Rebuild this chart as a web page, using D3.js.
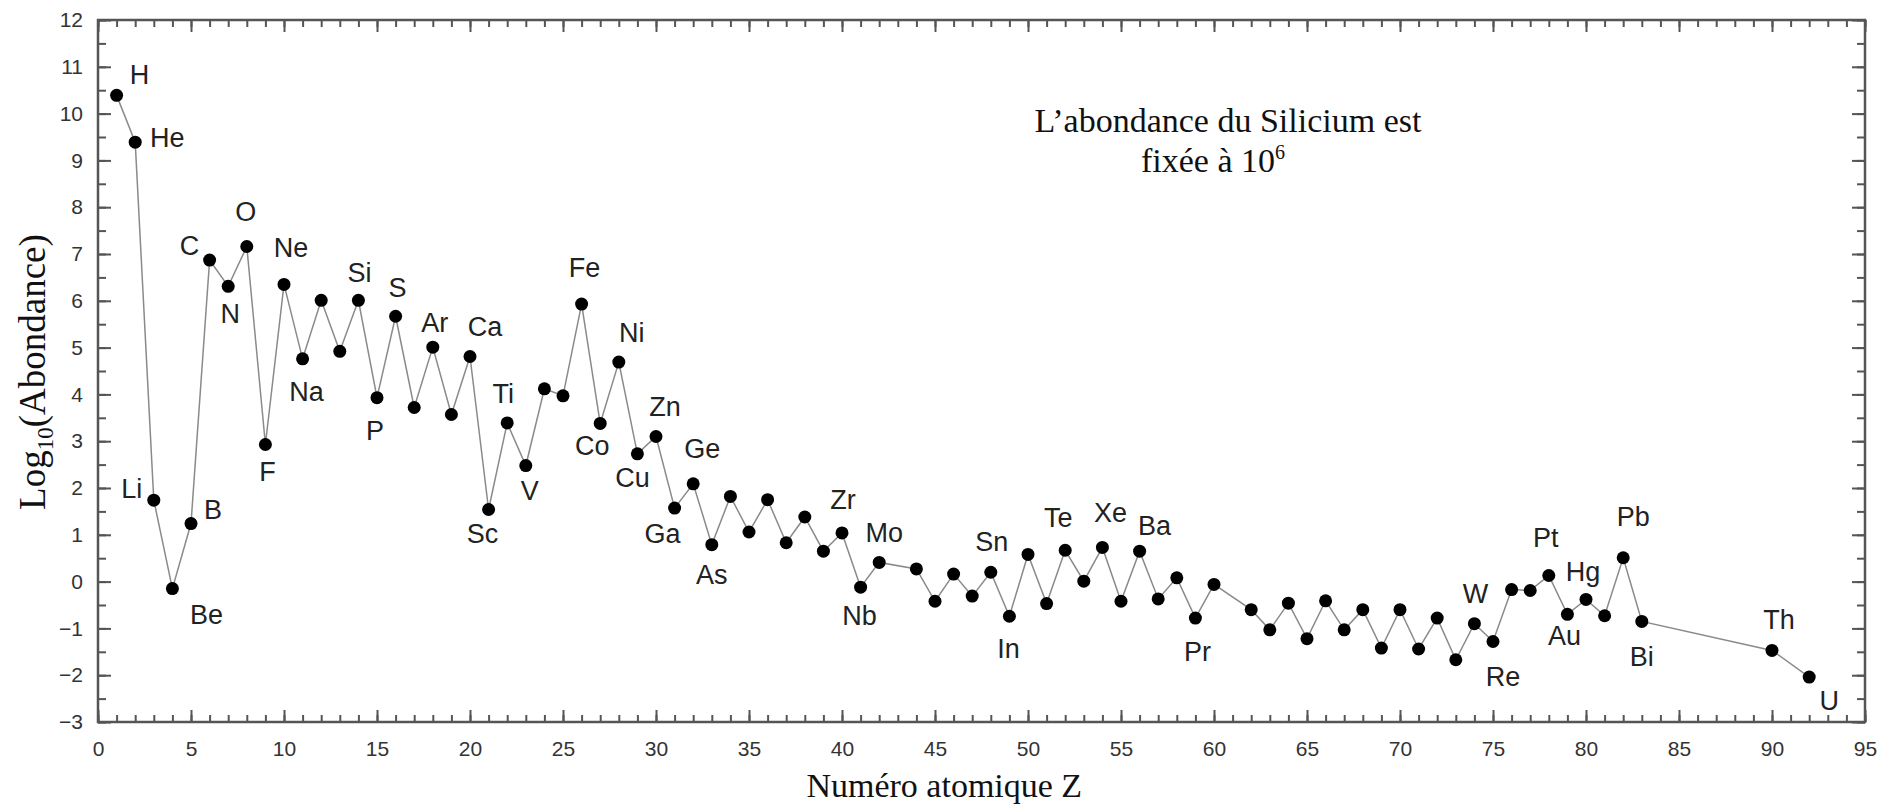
<!DOCTYPE html>
<html>
<head>
<meta charset="utf-8">
<script src="https://cdn.jsdelivr.net/npm/d3@7"></script>
<style>
  body { margin: 0; background: #fff; }
  .tick text { font-family: "Liberation Sans", Arial, sans-serif; font-size: 21px; fill: #333; }
  .serif { font-family: "Liberation Serif", "Times New Roman", serif; fill: #111; }
</style>
</head>
<body>
<div id="chart"></div>
<script>
// atomic numbers present in the plot (43 and 61 are missing)
var atomicNumber = [1,2,3,4,5,6,7,8,9,10,11,12,13,14,15,16,17,18,19,20,
  21,22,23,24,25,26,27,28,29,30,31,32,33,34,35,36,37,38,39,40,41,42,
  44,45,46,47,48,49,50,51,52,53,54,55,56,57,58,59,60,
  62,63,64,65,66,67,68,69,70,71,72,73,74,75,76,77,78,79,80,81,82,83,90,92];

// log10 abundance (Si = 10^6)
var logAbundance = [10.39,9.39,1.74,-0.15,1.24,6.87,6.31,7.16,2.93,6.35,4.76,6.01,4.92,6.01,3.93,5.67,3.72,5.01,3.57,4.81,
  1.54,3.39,2.48,4.12,3.97,5.93,3.38,4.69,2.73,3.10,1.57,2.09,0.79,1.82,1.06,1.75,0.83,1.38,0.65,1.04,-0.12,0.41,
  0.27,-0.42,0.16,-0.31,0.20,-0.74,0.58,-0.47,0.67,0.01,0.73,-0.42,0.65,-0.37,0.08,-0.78,-0.06,
  -0.60,-1.03,-0.46,-1.22,-0.41,-1.03,-0.60,-1.42,-0.60,-1.44,-0.78,-1.67,-0.90,-1.28,-0.17,-0.19,0.13,-0.70,-0.38,-0.73,0.51,-0.85,-1.47,-2.04];

// element labels and the point they sit next to
var labelText = ["H","He","Li","Be","B","C","N","O","F","Ne","Na","Si","P","S","Ar","Ca","Sc","Ti","V","Fe",
  "Co","Ni","Cu","Zn","Ga","Ge","As","Zr","Nb","Mo","Sn","In","Te","Xe","Ba","Pr","W","Re","Pt","Au","Hg","Pb","Bi","Th","U"];
var labelZ = [1,2,3,4,5,6,7,8,9,10,11,14,15,16,18,20,21,22,23,26,
  27,28,29,30,31,32,33,40,41,42,48,49,52,54,56,59,74,75,78,79,80,82,83,90,92];

var xTicks = d3.range(0, 96, 5);
var yTicks = d3.range(-3, 13, 1);

// label placement relative to its dot (layout only)
var labelOffset = {
  H:[23,-21], He:[32,-5], Li:[-22,-12], Be:[34,26], B:[22,-14], C:[-20,-15], N:[2,27], O:[-1,-35],
  F:[2,27], Ne:[7,-37], Na:[4,32], Si:[1,-28], P:[-2,33], S:[2,-29], Ar:[2,-25], Ca:[15,-30],
  Sc:[-6,24], Ti:[-4,-30], V:[4,25], Fe:[3,-37], Co:[-8,22], Ni:[13,-30], Cu:[-5,23], Zn:[9,-30],
  Ga:[-12,25], Ge:[9,-36], As:[0,30], Zr:[1,-34], Nb:[-1,28], Mo:[5,-30], Sn:[1,-31], In:[-1,32],
  Te:[-7,-33], Xe:[8,-35], Ba:[15,-26], Pr:[2,33], W:[1,-30], Re:[10,35], Pt:[-3,-38], Au:[-3,21],
  Hg:[-3,-28], Pb:[10,-41], Bi:[0,35], Th:[7,-31], U:[20,23]
};

var svgWidth = 1898;
var svgHeight = 808;
var margin = { top: 20, right: 33, bottom: 86, left: 98 };
var width = svgWidth - margin.left - margin.right;
var height = svgHeight - margin.top - margin.bottom;

var svg = d3.select("#chart")
  .append("svg")
  .attr("width", svgWidth)
  .attr("height", svgHeight);

var chartGroup = svg.append("g")
  .attr("transform", `translate(${margin.left}, ${margin.top})`);

var x = d3.scaleLinear().domain([0, 95]).range([0, width]);
var y = d3.scaleLinear().domain([-3, 12]).range([height, 0]);

var axisColor = "#555";

// minor ticks on all four sides
function styleAxis(g) {
  g.selectAll("line").attr("stroke", axisColor).attr("stroke-width", 2);
  g.selectAll(".domain").remove();
}
chartGroup.append("g").attr("transform", `translate(0, ${height})`)
  .call(d3.axisBottom(x).tickValues(d3.range(0, 96, 1)).tickSize(-7).tickFormat("")).call(styleAxis);
chartGroup.append("g")
  .call(d3.axisTop(x).tickValues(d3.range(0, 96, 1)).tickSize(-7).tickFormat("")).call(styleAxis);
chartGroup.append("g")
  .call(d3.axisLeft(y).tickValues(d3.range(-3, 12.01, 0.5)).tickSize(-8).tickFormat("")).call(styleAxis);
chartGroup.append("g").attr("transform", `translate(${width}, 0)`)
  .call(d3.axisRight(y).tickValues(d3.range(-3, 12.01, 0.5)).tickSize(-8).tickFormat("")).call(styleAxis);

// major ticks
chartGroup.append("g").attr("transform", `translate(0, ${height})`)
  .call(d3.axisBottom(x).tickValues(xTicks).tickSize(-12).tickPadding(19).tickFormat(d3.format("d"))).call(styleAxis);
chartGroup.append("g")
  .call(d3.axisTop(x).tickValues(xTicks).tickSize(-12).tickFormat("")).call(styleAxis);
chartGroup.append("g")
  .call(d3.axisLeft(y).tickValues(yTicks).tickSize(-13).tickPadding(15).tickFormat(d3.format("d"))).call(styleAxis);
chartGroup.append("g").attr("transform", `translate(${width}, 0)`)
  .call(d3.axisRight(y).tickValues(yTicks).tickSize(-13).tickFormat("")).call(styleAxis);

chartGroup.selectAll(".tick text").attr("fill", "#333");

// frame
chartGroup.append("rect")
  .attr("width", width)
  .attr("height", height)
  .attr("fill", "none")
  .attr("stroke", axisColor)
  .attr("stroke-width", 2.5);

var points = atomicNumber.map(function(z, i) { return { z: z, v: logAbundance[i] }; });

// connecting line
chartGroup.append("path")
  .datum(points)
  .attr("fill", "none")
  .attr("stroke", "#8a8a8a")
  .attr("stroke-width", 1.5)
  .attr("d", d3.line().x(d => x(d.z)).y(d => y(d.v)));

// dots
chartGroup.selectAll("circle")
  .data(points)
  .enter()
  .append("circle")
  .attr("cx", d => x(d.z))
  .attr("cy", d => y(d.v))
  .attr("r", 6.5)
  .attr("fill", "#000");

// element labels
var valueByZ = {};
points.forEach(function(p) { valueByZ[p.z] = p.v; });
var labelSize = 27;
chartGroup.selectAll(".elem")
  .data(labelText.map(function(t, i) { return { t: t, z: labelZ[i] }; }))
  .enter()
  .append("text")
  .attr("class", "elem")
  .attr("x", d => x(d.z) + labelOffset[d.t][0])
  .attr("y", d => y(valueByZ[d.z]) + labelOffset[d.t][1] + labelSize * 0.36)
  .attr("text-anchor", "middle")
  .attr("font-family", "'Liberation Sans', Arial, sans-serif")
  .attr("font-size", labelSize)
  .attr("fill", "#222")
  .text(d => d.t);

// axis titles
svg.append("text")
  .attr("class", "serif")
  .attr("x", margin.left + x(45.5))
  .attr("y", 797)
  .attr("text-anchor", "middle")
  .attr("font-size", 34)
  .text("Numéro atomique Z");

var yTitle = svg.append("text")
  .attr("class", "serif")
  .attr("transform", "translate(45, 372) rotate(-90)")
  .attr("text-anchor", "middle")
  .attr("font-size", 37);
yTitle.append("tspan").text("Log");
yTitle.append("tspan").attr("dy", 8).attr("font-size", 23).text("10");
yTitle.append("tspan").attr("dy", -8).text("(Abondance)");

// annotation
svg.append("text")
  .attr("class", "serif")
  .attr("x", 1228)
  .attr("y", 132)
  .attr("text-anchor", "middle")
  .attr("font-size", 34)
  .text("L\u2019abondance du Silicium est");

var note2 = svg.append("text")
  .attr("class", "serif")
  .attr("x", 1213)
  .attr("y", 172)
  .attr("text-anchor", "middle")
  .attr("font-size", 34);
note2.append("tspan").text("fixée à 10");
note2.append("tspan").attr("dy", -13).attr("font-size", 20).text("6");
</script>
</body>
</html>
